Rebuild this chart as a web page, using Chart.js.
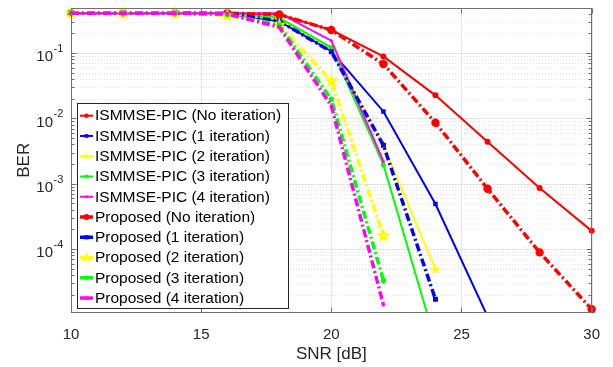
<!DOCTYPE html>
<html>
<head>
<meta charset="utf-8">
<script src="https://cdn.jsdelivr.net/npm/chart.js@4/dist/chart.umd.min.js"></script>
<style>
html, body { margin: 0; padding: 0; background: #fff; }
</style>
</head>
<body>
<canvas id="berChart" width="613" height="367"></canvas>
<script>
// SNR points (dB)
const snr = [10, 12, 14, 16, 18, 20, 22, 24, 26, 28, 30];

// BER, one array per curve
const ismmse0 = [0.41, 0.41, 0.41, 0.41, 0.39, 0.226, 0.089, 0.0226, 0.0044, 8.6e-4, 1.9e-4];
const ismmse1 = [0.41, 0.41, 0.41, 0.40, 0.31, 0.107, 0.0128, 4.9e-4, 9.3e-6];
const ismmse2 = [0.41, 0.41, 0.41, 0.40, 0.33, 0.12, 0.0039, 4.9e-5];
const ismmse3 = [0.41, 0.41, 0.41, 0.41, 0.35, 0.122, 0.00196, 3.8e-6];
const ismmse4 = [0.41, 0.41, 0.41, 0.41, 0.41, 0.155, 0.0022];
const proposed0 = [0.41, 0.41, 0.41, 0.41, 0.39, 0.226, 0.068, 0.0086, 8.4e-4, 8.9e-5, 1.2e-5];
const proposed1 = [0.41, 0.41, 0.41, 0.40, 0.31, 0.105, 0.0039, 1.7e-5];
const proposed2 = [0.41, 0.41, 0.41, 0.38, 0.27, 0.0375, 1.6e-4];
const proposed3 = [0.41, 0.41, 0.41, 0.39, 0.27, 0.0196, 3.3e-5];
const proposed4 = [0.41, 0.41, 0.41, 0.40, 0.25, 0.0155, 1.4e-5];

const labels = [
    'ISMMSE-PIC (No iteration)', 'ISMMSE-PIC (1 iteration)', 'ISMMSE-PIC (2 iteration)',
    'ISMMSE-PIC (3 iteration)', 'ISMMSE-PIC (4 iteration)',
    'Proposed (No iteration)', 'Proposed (1 iteration)', 'Proposed (2 iteration)',
    'Proposed (3 iteration)', 'Proposed (4 iteration)'
];

const yMin = 1.05e-5;
const yMax = 0.5;
const fontFam = '"Liberation Sans", Arial, Helvetica, sans-serif';
const axisColor = '#262626';

// yellow pentagram marker
const makeStar = (r) => {
    const c = document.createElement('canvas');
    const s = Math.ceil(r * 2 + 2);
    c.width = s;
    c.height = s;
    const g = c.getContext('2d');
    g.beginPath();
    for (let i = 0; i < 10; i++) {
        const rad = i % 2 === 0 ? r : r * 0.42;
        const ang = -Math.PI / 2 + i * Math.PI / 5;
        const px = s / 2 + rad * Math.cos(ang);
        const py = s / 2 + rad * Math.sin(ang);
        if (i === 0) g.moveTo(px, py); else g.lineTo(px, py);
    }
    g.closePath();
    g.fillStyle = '#ffff00';
    g.fill();
    return c;
};
const smallStar = makeStar(5.5);
const bigStar = makeStar(7.5);
const legendStarS = makeStar(4);
const legendStarB = makeStar(5.5);

const toPoints = (vals) => vals.map((v, i) => ({ x: snr[i], y: v }));

const makeSet = (i, vals, color, dashed, style, radius, legStyle, legRadius) => ({
    label: labels[i],
    data: toPoints(vals),
    borderColor: color,
    backgroundColor: color,
    borderWidth: dashed ? 3.5 : 2,
    borderDash: dashed ? [8, 3, 2, 3] : [],
    pointStyle: style,
    pointRadius: (c) => (c.raw && c.raw.y < yMin ? 0 : radius),
    pointBorderWidth: 0,
    tension: 0,
    order: 20 - i,
    clip: { left: 10, top: 10, right: 10, bottom: 0 },
    legStyle: legStyle,
    legRadius: legRadius
});

const datasets = [
    makeSet(0, ismmse0, '#ff0000', false, 'circle', 3, 'circle', 2.2),
    makeSet(1, ismmse1, '#0000ff', false, 'rect', 3.2, 'rect', 2.6),
    makeSet(2, ismmse2, '#ffff00', false, smallStar, 5.5, legendStarS, 4),
    makeSet(3, ismmse3, '#00ff00', false, 'circle', 2.5, 'circle', 2),
    makeSet(4, ismmse4, '#ff00ff', false, 'circle', 1.5, 'circle', 1.5),
    makeSet(5, proposed0, '#ff0000', true, 'circle', 4.2, 'circle', 3),
    makeSet(6, proposed1, '#0000ff', true, 'rect', 3.5, 'rect', 3),
    makeSet(7, proposed2, '#ffff00', true, bigStar, 7.5, legendStarB, 5.5),
    makeSet(8, proposed3, '#00ff00', true, 'circle', 2.8, 'circle', 2.2),
    makeSet(9, proposed4, '#ff00ff', true, 'circle', 1.8, 'circle', 1.8)
];

// log tick values inside the range
const majorVals = [];
const minorVals = [];
for (let e = -6; e <= 0; e++) {
    for (let m = 1; m <= 9; m++) {
        const v = m * Math.pow(10, e);
        if (v < yMin * 0.999 || v > yMax * 1.001) continue;
        if (m === 1) majorVals.push(e); else minorVals.push(v);
    }
}

const hline = (ctx, x1, x2, y) => { ctx.beginPath(); ctx.moveTo(x1, y); ctx.lineTo(x2, y); ctx.stroke(); };
const vline = (ctx, x, y1, y2) => { ctx.beginPath(); ctx.moveTo(x, y1); ctx.lineTo(x, y2); ctx.stroke(); };

const matlabAxes = {
    id: 'matlabAxes',
    beforeDatasetsDraw(chart) {
        const { ctx, chartArea: a, scales: { x, y } } = chart;
        ctx.save();
        ctx.lineWidth = 1;
        // minor grid
        ctx.strokeStyle = '#e2e2e2';
        ctx.setLineDash([1, 2]);
        minorVals.forEach(v => hline(ctx, a.left, a.right, Math.round(y.getPixelForValue(v)) + 0.5));
        // major grid
        ctx.setLineDash([]);
        ctx.strokeStyle = '#e4e4e4';
        majorVals.forEach(e => hline(ctx, a.left, a.right, Math.round(y.getPixelForValue(Math.pow(10, e))) + 0.5));
        x.ticks.forEach(t => vline(ctx, Math.round(x.getPixelForValue(t.value)) + 0.5, a.top, a.bottom));
        ctx.restore();
    },
    afterDatasetsDraw(chart) {
        const { ctx, chartArea: a, scales: { x, y } } = chart;
        ctx.save();
        ctx.strokeStyle = '#707070';
        ctx.lineWidth = 1;
        const L = Math.round(a.left) + 0.5, R = Math.round(a.right) - 0.5;
        const T = Math.round(a.top) + 0.5, B = Math.round(a.bottom) - 0.5;
        ctx.strokeRect(L, T, R - L, B - T);
        // ticks, pointing inward
        x.ticks.forEach(t => {
            const px = Math.round(x.getPixelForValue(t.value)) + 0.5;
            vline(ctx, px, B, B - 5);
            vline(ctx, px, T, T + 5);
        });
        majorVals.forEach(e => {
            const py = Math.round(y.getPixelForValue(Math.pow(10, e))) + 0.5;
            hline(ctx, L, L + 5, py);
            hline(ctx, R, R - 5, py);
        });
        minorVals.forEach(v => {
            const py = Math.round(y.getPixelForValue(v)) + 0.5;
            hline(ctx, L, L + 3, py);
            hline(ctx, R, R - 3, py);
        });
        // y tick labels with superscript
        ctx.fillStyle = axisColor;
        ctx.textBaseline = 'middle';
        majorVals.forEach(e => {
            const py = y.getPixelForValue(Math.pow(10, e));
            ctx.font = '15px ' + fontFam;
            ctx.textAlign = 'right';
            ctx.fillText('10', 53, py + 4);
            ctx.font = '11px ' + fontFam;
            ctx.textAlign = 'left';
            ctx.fillText(String(e), 53.5, py - 4);
        });
        ctx.restore();
    },
    afterDraw(chart) {
        // legend box in the lower left of the axes
        const { ctx } = chart;
        const bx = 77, by = 103, bw = 211, bh = 205;
        ctx.save();
        ctx.fillStyle = '#ffffff';
        ctx.fillRect(bx, by, bw, bh);
        ctx.strokeStyle = '#262626';
        ctx.lineWidth = 1;
        ctx.strokeRect(bx + 0.5, by + 0.5, bw, bh);
        chart.data.datasets.forEach((ds, i) => {
            const cy = 115.7 + i * 20.26;
            ctx.strokeStyle = ds.borderColor;
            ctx.fillStyle = ds.borderColor;
            ctx.lineWidth = ds.borderWidth;
            ctx.setLineDash([]);
            hline(ctx, 80, 93, cy);
            Chart.helpers.drawPoint(ctx, { pointStyle: ds.legStyle, radius: ds.legRadius, rotation: 0, borderWidth: 0 }, 86.5, cy);
            ctx.fillStyle = '#000000';
            ctx.font = '15.5px ' + fontFam;
            ctx.textAlign = 'left';
            ctx.textBaseline = 'middle';
            ctx.fillText(ds.label, 95, cy + 0.5);
        });
        ctx.restore();
    }
};

new Chart(document.getElementById('berChart'), {
    type: 'line',
    data: { datasets: datasets },
    options: {
        responsive: false,
        animation: false,
        devicePixelRatio: 1,
        layout: { padding: { left: 0, right: 21, top: 7, bottom: 0 } },
        plugins: { legend: { display: false }, tooltip: { enabled: false } },
        scales: {
            x: {
                type: 'linear',
                min: 10,
                max: 30,
                ticks: { stepSize: 5, color: axisColor, font: { family: fontFam, size: 15 }, padding: 13, maxRotation: 0 },
                grid: { display: false, drawTicks: false },
                border: { display: false },
                title: { display: true, text: 'SNR [dB]', color: axisColor, font: { family: fontFam, size: 17 }, padding: { top: 0, bottom: 2 } },
                afterFit: (s) => { s.height = 54; }
            },
            y: {
                type: 'logarithmic',
                min: yMin,
                max: yMax,
                ticks: { display: false },
                grid: { display: false, drawTicks: false },
                border: { display: false },
                title: { display: true, text: 'BER', color: axisColor, font: { family: fontFam, size: 17 }, padding: { top: 14, bottom: 0 } },
                afterFit: (s) => { s.width = 71; }
            }
        }
    },
    plugins: [matlabAxes]
});
</script>
</body>
</html>
